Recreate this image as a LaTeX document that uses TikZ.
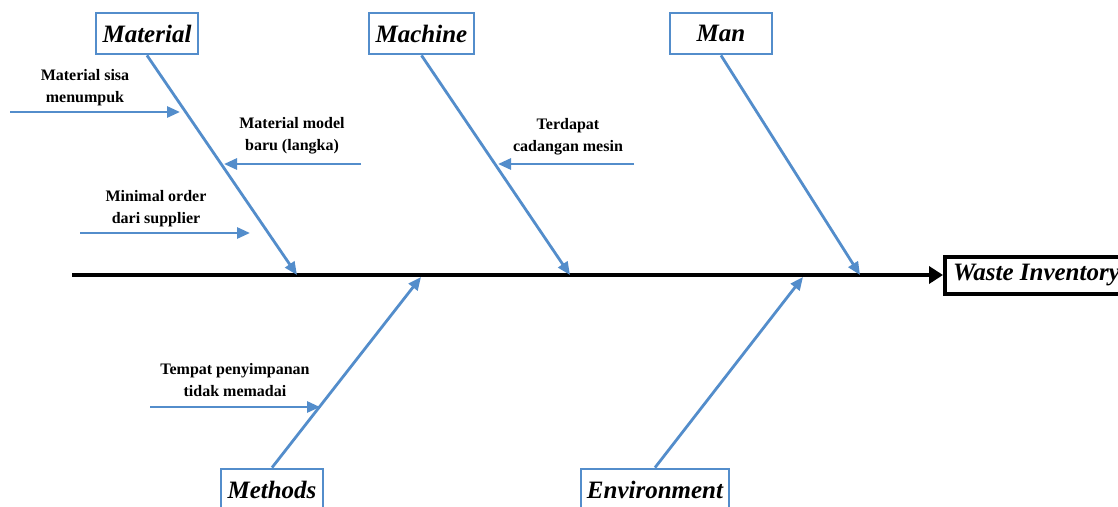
\documentclass[tikz,border=0pt]{standalone}
\usepackage{fontspec}
\setmainfont{Liberation Serif}
\usetikzlibrary{arrows.meta}
\definecolor{bone}{RGB}{83,141,203}
\begin{document}
\begin{tikzpicture}[x=1pt,y=-1pt,
  cause/.style={draw=bone,line width=2.8pt,fill=white,minimum width=#1,
    minimum height=41pt,inner sep=0pt,
    font=\fontsize{25}{28}\selectfont\bfseries\itshape},
  bone line/.style={draw=bone,line width=2.8pt,-{Triangle[length=13pt,width=11pt]}},
  note/.style={align=center,inner sep=0pt,font=\fontsize{16}{22}\selectfont\bfseries},
]
\clip (0,0) rectangle (1118,506);
\fill[white] (0,0) rectangle (1118,506);

% effect box
\node[draw,line width=4pt,minimum height=37pt,inner xsep=8pt,inner ysep=0pt,anchor=west,
  font=\fontsize{25}{28}\selectfont\bfseries\itshape] (waste) at (943,275) {Waste Inventory\hspace{20pt}};

% spine
\coordinate (tail) at (72,275);
\draw[line width=4pt,-{Triangle[length=14pt,width=17pt]}] (tail) -- (waste.west);

% cause categories
\node[cause=102pt] (mat) at (147,33.5) {Material};
\node[cause=105pt] (mac) at (421.5,33.5) {Machine};
\node[cause=102pt] (man) at (721,33.5) {Man};
\node[cause=102pt] (met) at (272,489.5) {Methods};
\node[cause=148pt] (env) at (655,489.5) {Environment};

% points where the bones meet the spine
\coordinate (matEnd) at (297,275);
\coordinate (macEnd) at (570,275);
\coordinate (manEnd) at (860,275);
\coordinate (metEnd) at (421,277);
\coordinate (envEnd) at (803,277);

\draw[bone line] (mat.south) -- (matEnd);
\draw[bone line] (mac.south) -- (macEnd);
\draw[bone line] (man.south) -- (manEnd);
\draw[bone line] (met.north) -- (metEnd);
\draw[bone line] (env.north) -- (envEnd);

% sub-causes
\node[note] (n1) at (85,87.5) {Material sisa\\menumpuk};
\node[note] (n2) at (292,136) {Material model\\baru (langka)};
\node[note] (n3) at (156,209) {Minimal order\\dari supplier};
\node[note] (n4) at (568,137) {Terdapat\\cadangan mesin};
\node[note] (n5) at (235,380) {Tempat penyimpanan\\tidak memadai};

\coordinate (a1) at (10,112);  \coordinate (b1) at (180,112);
\coordinate (a2) at (361,164); \coordinate (b2) at (224,164);
\coordinate (a3) at (80,233);  \coordinate (b3) at (250,233);
\coordinate (a4) at (634,164); \coordinate (b4) at (498,164);
\coordinate (a5) at (150,407); \coordinate (b5) at (320,407);

\draw[bone line] (a1) -- (b1);
\draw[bone line] (a2) -- (b2);
\draw[bone line] (a3) -- (b3);
\draw[bone line] (a4) -- (b4);
\draw[bone line] (a5) -- (b5);
\end{tikzpicture}
\end{document}
